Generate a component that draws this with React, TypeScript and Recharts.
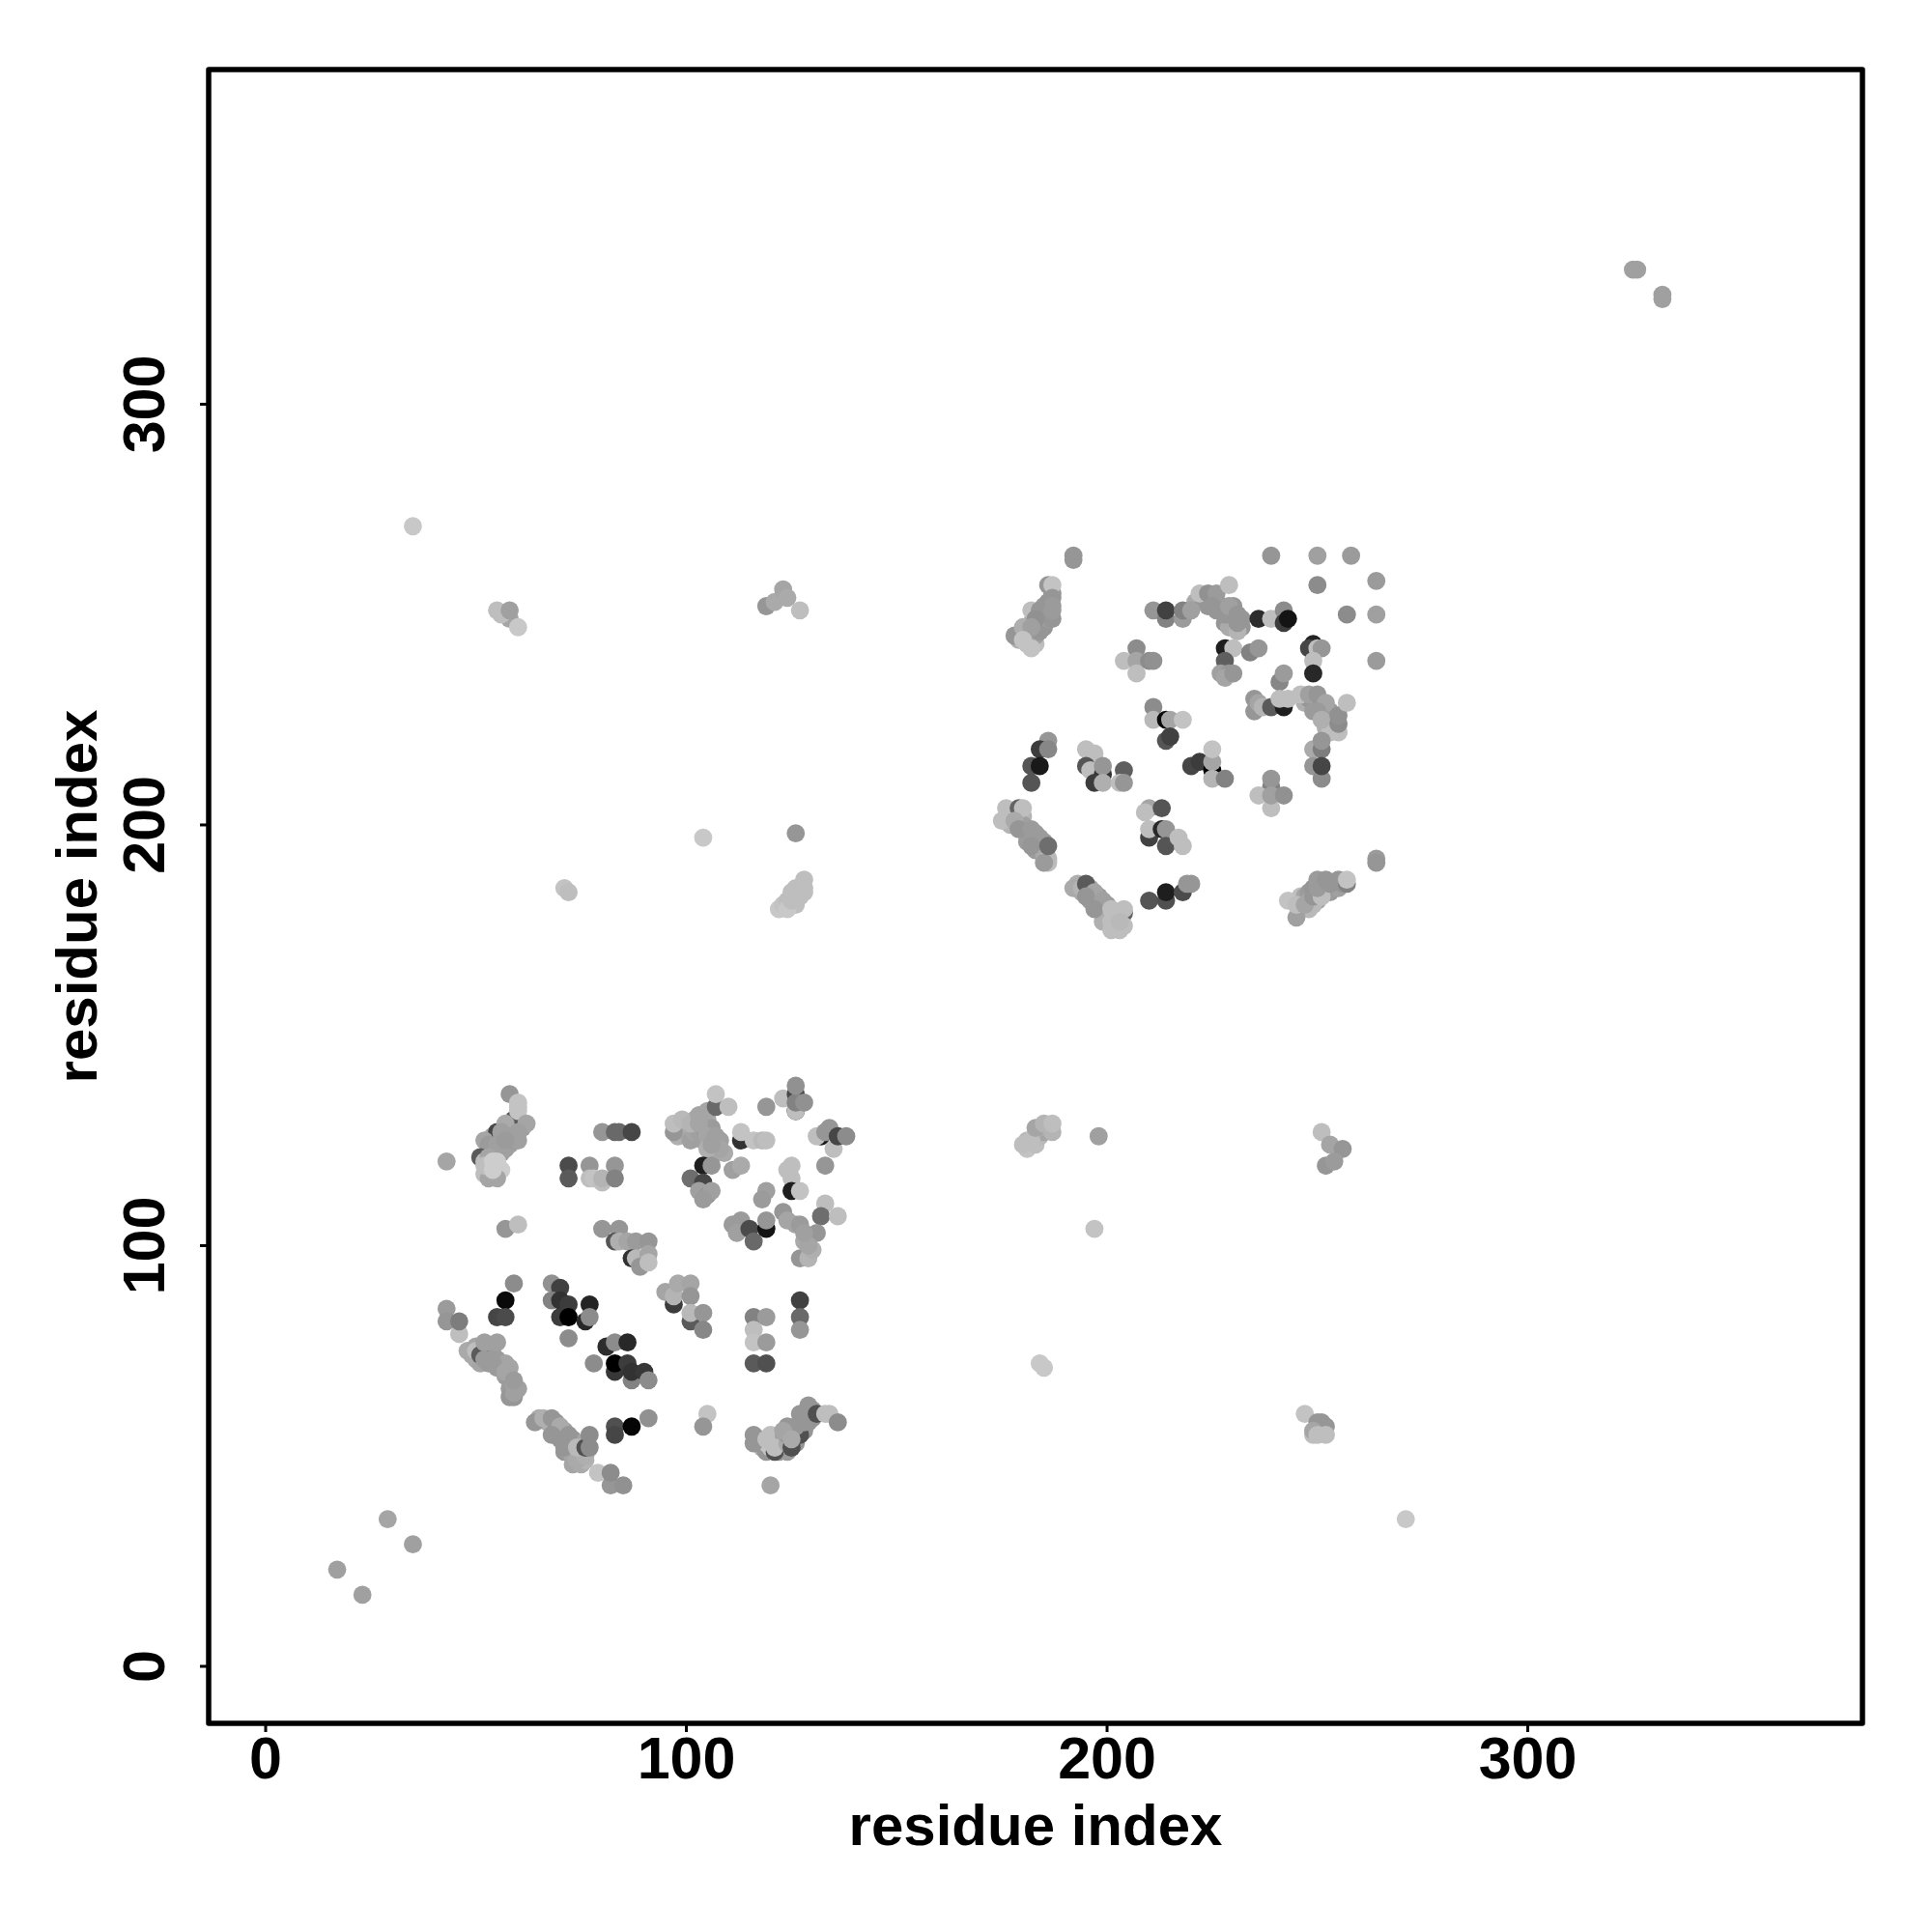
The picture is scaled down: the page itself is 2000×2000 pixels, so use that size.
import React from "react";
import { ScatterChart, Scatter, XAxis, YAxis, ReferenceArea } from "recharts";

type P = [number, number, number];

const tickValues = [0, 100, 200, 300];
const axisTitle = "residue index";

const upperBands: P[] = [
  [179,244,175],[181,243,190],[183,243,190],[181,246,165],[183,245,160],[182,248,170],[184,246,150],[184,248,155],[185,247,150],[183,250,165],[185,249,150],[186,249,155],[186,250,160],[185,252,155],[187,249,150],[186,253,150],[187,255,150],
  [177,202,190],[178,203,185],[177,200,180],[180,202,180],[179,201,165],[180,200,160],[181,198,155],[181,196,155],[183,198,155],[183,196,155],[184,195,150],[185,196,155],[183,194,155],[185,193,170],[186,191,190],
  [193,186,175],[194,184,170],[196,185,170],[196,182,155],[198,183,155],[197,182,160],[198,180,155],[199,179,155],[200,181,155],[200,178,170],[199,177,175],[202,178,190],[202,176,195],[203,175,190],[201,177,190],
  [246,183,190],[247,183,165],[248,184,155],[248,182,165],[248,180,185],[250,182,160],[249,181,185],[251,184,155],[252,185,150],[253,184,155],[251,186,150],[254,186,150],[255,185,160],[256,186,150],[249,185,150],
  [247,229,175],[249,229,155],[248,230,150],[249,227,155],[251,229,155],[252,227,155],[251,226,160],[252,225,160],[253,224,170],[254,223,190],[253,227,155],[252,223,175],[253,222,190],
  [221,253,170],[223,253,150],[224,252,150],[226,253,150],[226,251,150],[227,252,150],[228,248,150],[229,249,150],[230,247,165],[230,252,150],[230,250,150],[229,247,170],[232,249,150],[232,247,150],
];
const lowerBands: P[] = [
  [48,75,170],[50,73,170],[50,76,165],[51,72,165],[53,75,160],[53,72,155],[52,74,155],[54,74,155],[55,71,155],[55,73,155],[56,71,155],[57,69,160],[57,72,165],[58,71,165],[58,68,155],[58,66,155],[59,67,160],[60,66,160],[59,64,150],
  [65,59,170],[67,58,175],[69,58,155],[69,56,150],[70,55,150],[71,56,160],[70,54,150],[72,53,150],[71,51,150],[72,51,155],[73,54,150],[73,50,165],[74,53,150],[73,48,165],[75,48,170],[75,53,165],[76,49,180],[75,51,185],
  [118,52,170],[118,54,190],[119,51,150],[119,53,195],[120,52,195],[120,55,190],[121,54,190],[122,51,150],[122,53,165],[123,54,160],[123,52,160],[124,51,155],[124,57,150],[125,56,155],[126,55,155],[126,53,150],[127,58,150],[127,56,150],[127,60,150],[128,56,150],[128,60,150],[129,58,150],[130,61,155],[130,59,150],
  [98,126,175],[100,127,170],[101,125,160],[102,127,165],[102,130,170],[103,127,160],[104,125,160],[104,128,155],[105,130,170],[105,128,155],[106,122,165],[107,124,160],[108,125,160],[109,122,170],[107,122,170],[106,128,155],
  [53,118,190],[54,122,170],[55,122,165],[55,125,155],[56,122,160],[57,123,160],[58,124,160],[59,127,155],[59,125,155],[60,125,160],[61,128,155],[53,123,170],[54,126,165],[56,118,205],[52,117,190],[56,126,155],
];
const crossBands: P[] = [
  [122,180,200],[123,181,195],[124,182,190],[125,184,190],[126,185,190],[126,181,190],[127,183,190],[128,184,190],
  [181,123,195],[183,124,190],[184,126,185],[185,127,165],[186,128,180],[181,125,185],[184,128,170],[187,127,180],
  [57,250,185],[58,249,165],[249,55,190],[251,56,170],[252,57,150],[250,57,150],
];

const lowerLeftA: P[] = [
  [58,136,150],[59,130,90],[60,134,195],[60,133,195],[60,132,195],[62,129,165],[55,127,70],[57,129,170],[56,127,160],[58,126,160],[60,127,160],
  [52,125,165],[53,124,155],[55,124,160],[57,125,155],[51,121,90],[53,116,165],[55,116,165],[52,120,190],[53,121,165],[55,120,205],[52,119,190],[54,120,205],[54,118,205],[43,120,165],
  [80,127,150],[83,127,105],[84,127,105],[87,127,70],[72,119,75],[72,116,90],[77,119,150],[77,116,190],[78,116,195],[80,115,190],[80,116,180],[83,119,150],[83,116,130],
];
const lowerLeftB: P[] = [
  [97,127,150],[97,129,190],[99,130,185],[101,129,180],[103,131,165],[105,132,165],[107,133,105],[107,136,195],[110,133,190],[103,129,165],[105,126,165],[107,126,160],[108,123,165],[105,123,175],[106,124,160],
  [113,125,50],[113,127,195],[116,125,195],[118,125,185],[119,125,190],[119,133,150],[123,135,190],[126,132,30],[126,132,190],[126,136,70],[126,134,130],[126,138,145],[128,134,145],
  [132,126,25],[131,126,190],[133,127,150],[134,128,150],[135,123,190],[136,126,70],[138,126,140],[133,119,150],
  [104,119,30],[106,119,150],[101,116,110],[104,115,70],[103,113,160],[105,112,150],[106,113,160],[104,111,155],[111,118,160],[113,119,170],
  [125,119,190],[124,118,190],[125,116,190],[125,113,30],[127,113,195],[119,113,160],[118,111,155],
  [133,110,190],[132,107,110],[136,107,190],[111,105,155],[113,106,155],[112,103,160],[115,104,75],[116,101,105],[119,104,20],[119,106,150],
  [123,108,150],[124,106,165],[126,105,165],[127,105,155],[131,103,150],[128,101,170],[127,97,150],[129,97,180],[130,99,175],[129,100,165],[128,103,160],
];
const lowerLeftC: P[] = [
  [57,104,150],[60,105,190],[80,104,150],[84,104,150],[83,101,85],[84,101,175],[86,101,165],[88,101,155],[91,101,150],[87,97,50],[88,97,185],[91,98,165],[89,95,150],[91,96,190],
  [95,89,165],[97,86,60],[97,88,180],[98,91,170],[101,91,165],[101,88,150],[101,82,90],[101,84,185],[104,84,150],[104,80,135],
  [59,91,140],[57,87,10],[55,83,70],[57,83,75],[68,91,145],[70,90,65],[68,87,130],[70,87,50],[72,86,60],[70,83,60],[72,83,0],[76,82,40],[77,86,35],[77,83,140],[72,78,140],
  [43,85,155],[43,82,150],[46,79,190],[46,82,125],[49,74,170],[50,75,190],[51,74,90],[52,77,160],[55,77,160],[52,73,155],[54,72,155],[57,70,165],[58,64,150],[59,65,160],[59,68,155],
  [78,72,140],[81,76,45],[83,77,140],[86,77,40],[83,70,55],[83,72,0],[86,72,60],[87,68,130],[87,70,50],[90,70,55],[91,68,140],
  [116,83,130],[119,83,155],[116,80,190],[116,77,195],[119,77,155],[116,72,90],[119,72,80],[127,87,65],[127,83,105],[127,80,150],
];
const lowerLeftD: P[] = [
  [64,58,150],[66,59,175],[68,59,150],[70,57,170],[68,55,150],[72,55,150],[71,52,150],[74,49,170],[76,50,175],[74,52,185],[76,52,80],[77,55,140],[77,52,140],
  [83,57,80],[83,55,70],[87,57,5],[91,59,145],[105,60,195],[104,57,150],[79,46,195],[82,43,150],[85,43,145],[82,46,140],[120,43,165],
  [116,55,150],[116,53,150],[119,54,190],[121,51,80],[121,52,190],[124,53,170],[124,55,150],[127,55,80],[126,57,150],[128,58,150],[129,62,150],[131,60,80],[133,60,190],[134,60,190],[136,58,140],[123,56,165],[125,52,80],[125,54,170],
];
const upperRightA: P[] = [
  [192,264,150],[192,263,150],[239,264,150],[250,264,160],[258,264,155],[250,257,140],[264,258,155],[257,250,140],[264,250,160],[264,239,155],
  [186,257,150],[187,257,195],[187,254,150],[187,252,155],[178,245,150],[180,247,175],[182,251,190],[184,251,150],[183,249,145],[187,251,155],[182,247,160],[180,244,195],[182,242,195],
  [211,251,150],[214,249,130],[214,251,65],[218,249,155],[218,251,130],[220,251,160],[222,255,190],[224,255,145],[226,255,155],[229,257,190],[225,252,150],[228,250,150],[229,252,160],[231,246,180],[231,248,150],[231,250,150],
  [236,249,45],[239,249,190],[242,251,140],[242,248,60],[243,249,20],
  [249,243,35],[248,242,70],[250,242,190],[251,242,150],[249,239,190],[249,236,40],
  [228,242,30],[230,242,190],[234,241,130],[236,242,150],[228,239,95],[227,236,160],[229,236,150],[228,235,165],[230,236,150],
  [207,242,140],[204,239,190],[207,239,165],[207,236,190],[210,239,140],[211,239,145],[241,234,135],[242,236,155],
];
const upperRightB: P[] = [
  [235,230,150],[235,227,150],[236,229,165],[237,228,180],[239,228,90],[242,228,30],[241,230,190],[243,230,190],
  [246,231,190],[248,231,160],[250,231,150],[252,229,165],[250,227,155],[251,225,175],[255,222,190],[255,224,140],[255,226,145],[257,229,190],
  [249,218,170],[251,218,125],[251,220,150],[249,214,150],[251,211,140],[251,214,70],[239,209,130],[239,211,150],[236,207,190],[239,204,190],[239,207,160],[242,207,145],
  [211,228,140],[211,225,185],[214,225,10],[215,225,165],[218,225,195],[214,220,85],[215,221,65],
  [186,220,150],[184,218,60],[186,218,135],[182,214,85],[184,214,25],[182,210,85],
  [195,218,190],[197,217,190],[195,214,85],[196,213,190],[199,212,50],[199,214,150],[197,210,60],[199,210,175],[204,213,95],[203,210,190],[204,210,150],
  [220,214,70],[222,215,60],[225,213,0],[225,215,165],[225,218,195],[225,211,180],[228,211,130],
  [176,204,190],[179,204,100],[180,204,190],[175,201,190],[178,201,170],[179,199,150],[182,199,155],[184,197,155],[182,195,150],[186,192,185],[185,191,155],[186,195,110],
];
const upperRightC: P[] = [
  [210,204,165],[209,203,190],[213,204,85],[210,197,65],[210,199,190],[213,199,40],[214,199,150],[214,195,85],[217,197,190],[218,195,190],
  [192,185,170],[194,185,180],[195,186,90],[197,184,165],[195,183,150],[199,182,160],[197,180,150],[204,179,100],[201,180,190],[204,180,190],[201,175,190],[204,176,190],[203,177,185],
  [210,182,85],[214,182,80],[214,184,30],[218,184,75],[219,186,150],[220,186,150],
  [264,192,155],[264,191,150],[245,178,160],[243,182,195],[245,181,190],[247,181,165],[249,183,150],[251,183,190],[250,185,155],[250,187,155],[252,187,150],[253,186,150],[255,187,150],[257,186,130],[257,187,195],
];
const crossAndSparse: P[] = [
  [17,23,160],[23,17,160],[29,35,165],[35,29,160],[271,35,200],[35,271,200],
  [325,332,160],[326,332,160],[332,326,160],[332,325,160],
  [55,251,190],[56,250,190],[58,251,160],[60,247,200],
  [119,252,150],[121,253,170],[123,256,165],[124,254,170],[127,251,190],
  [104,197,200],[126,198,150],[71,185,195],[72,184,190],
  [124,180,200],[125,182,190],[127,185,190],[128,187,190],[128,185,190],[126,183,190],
  [198,126,160],[197,104,195],[180,124,190],[182,125,190],[183,128,165],[185,129,180],[187,129,190],
  [251,127,190],[253,124,165],[256,123,150],[252,119,150],[254,120,155],
  [184,72,200],[185,71,200],
  [247,60,195],[250,58,150],[251,58,150],[249,56,165],[250,55,190],[252,55,190],
];

const rows = [...upperBands, ...lowerBands, ...crossBands, ...crossAndSparse, ...lowerLeftA, ...lowerLeftB, ...lowerLeftC, ...lowerLeftD, ...upperRightA, ...upperRightB, ...upperRightC]
  .map(([i, j, shade]) => ({ i, j, shade }));

const Dot = (p: any) => {
  const g = p.payload.shade;
  return <circle cx={p.cx} cy={p.cy} r={9.4} fill={`rgb(${g},${g},${g})`} />;
};

const font = "'Liberation Sans', Arial, sans-serif";

const XTick = (p: any) => (
  <text x={p.x} y={p.y + 46} textAnchor="middle" fontFamily={font} fontWeight="bold" fontSize={61} fill="#000">{p.payload.value}</text>
);
const YTick = (p: any) => (
  <text transform={`translate(${p.x - 35},${p.y}) rotate(-90)`} textAnchor="middle" fontFamily={font} fontWeight="bold" fontSize={61} fill="#000">{p.payload.value}</text>
);

const domain: [number, number] = [-13.55, 379.55];

export default function App() {
  return (
    <div style={{ position: "absolute", left: 0, top: 0, width: 2000, height: 2000 }}>
      <ScatterChart width={2000} height={2000} margin={{ top: 72, right: 72, bottom: 0, left: 0 }}>
        <XAxis type="number" dataKey="i" domain={domain} ticks={tickValues} height={216}
          axisLine={false} tickSize={9} tickLine={{ stroke: "#000", strokeWidth: 3 }} tick={<XTick />} interval={0}
          label={{ value: axisTitle, position: "insideBottom", offset: 90, fontFamily: font, fontWeight: "bold", fontSize: 60, fill: "#000" }} />
        <YAxis type="number" dataKey="j" domain={domain} ticks={tickValues} width={216}
          axisLine={false} tickSize={9} tickLine={{ stroke: "#000", strokeWidth: 3 }} tick={<YTick />} interval={0}
          label={{ value: axisTitle, angle: -90, position: "center", dx: -29, fontFamily: font, fontWeight: "bold", fontSize: 60, fill: "#000" }} />
        <Scatter data={rows} isAnimationActive={false} shape={Dot} />
        <ReferenceArea x1={domain[0]} x2={domain[1]} y1={domain[0]} y2={domain[1]} ifOverflow="visible" fill="none" fillOpacity={0} stroke="#000" strokeWidth={5.5} strokeLinejoin="round" />
      </ScatterChart>
    </div>
  );
}
